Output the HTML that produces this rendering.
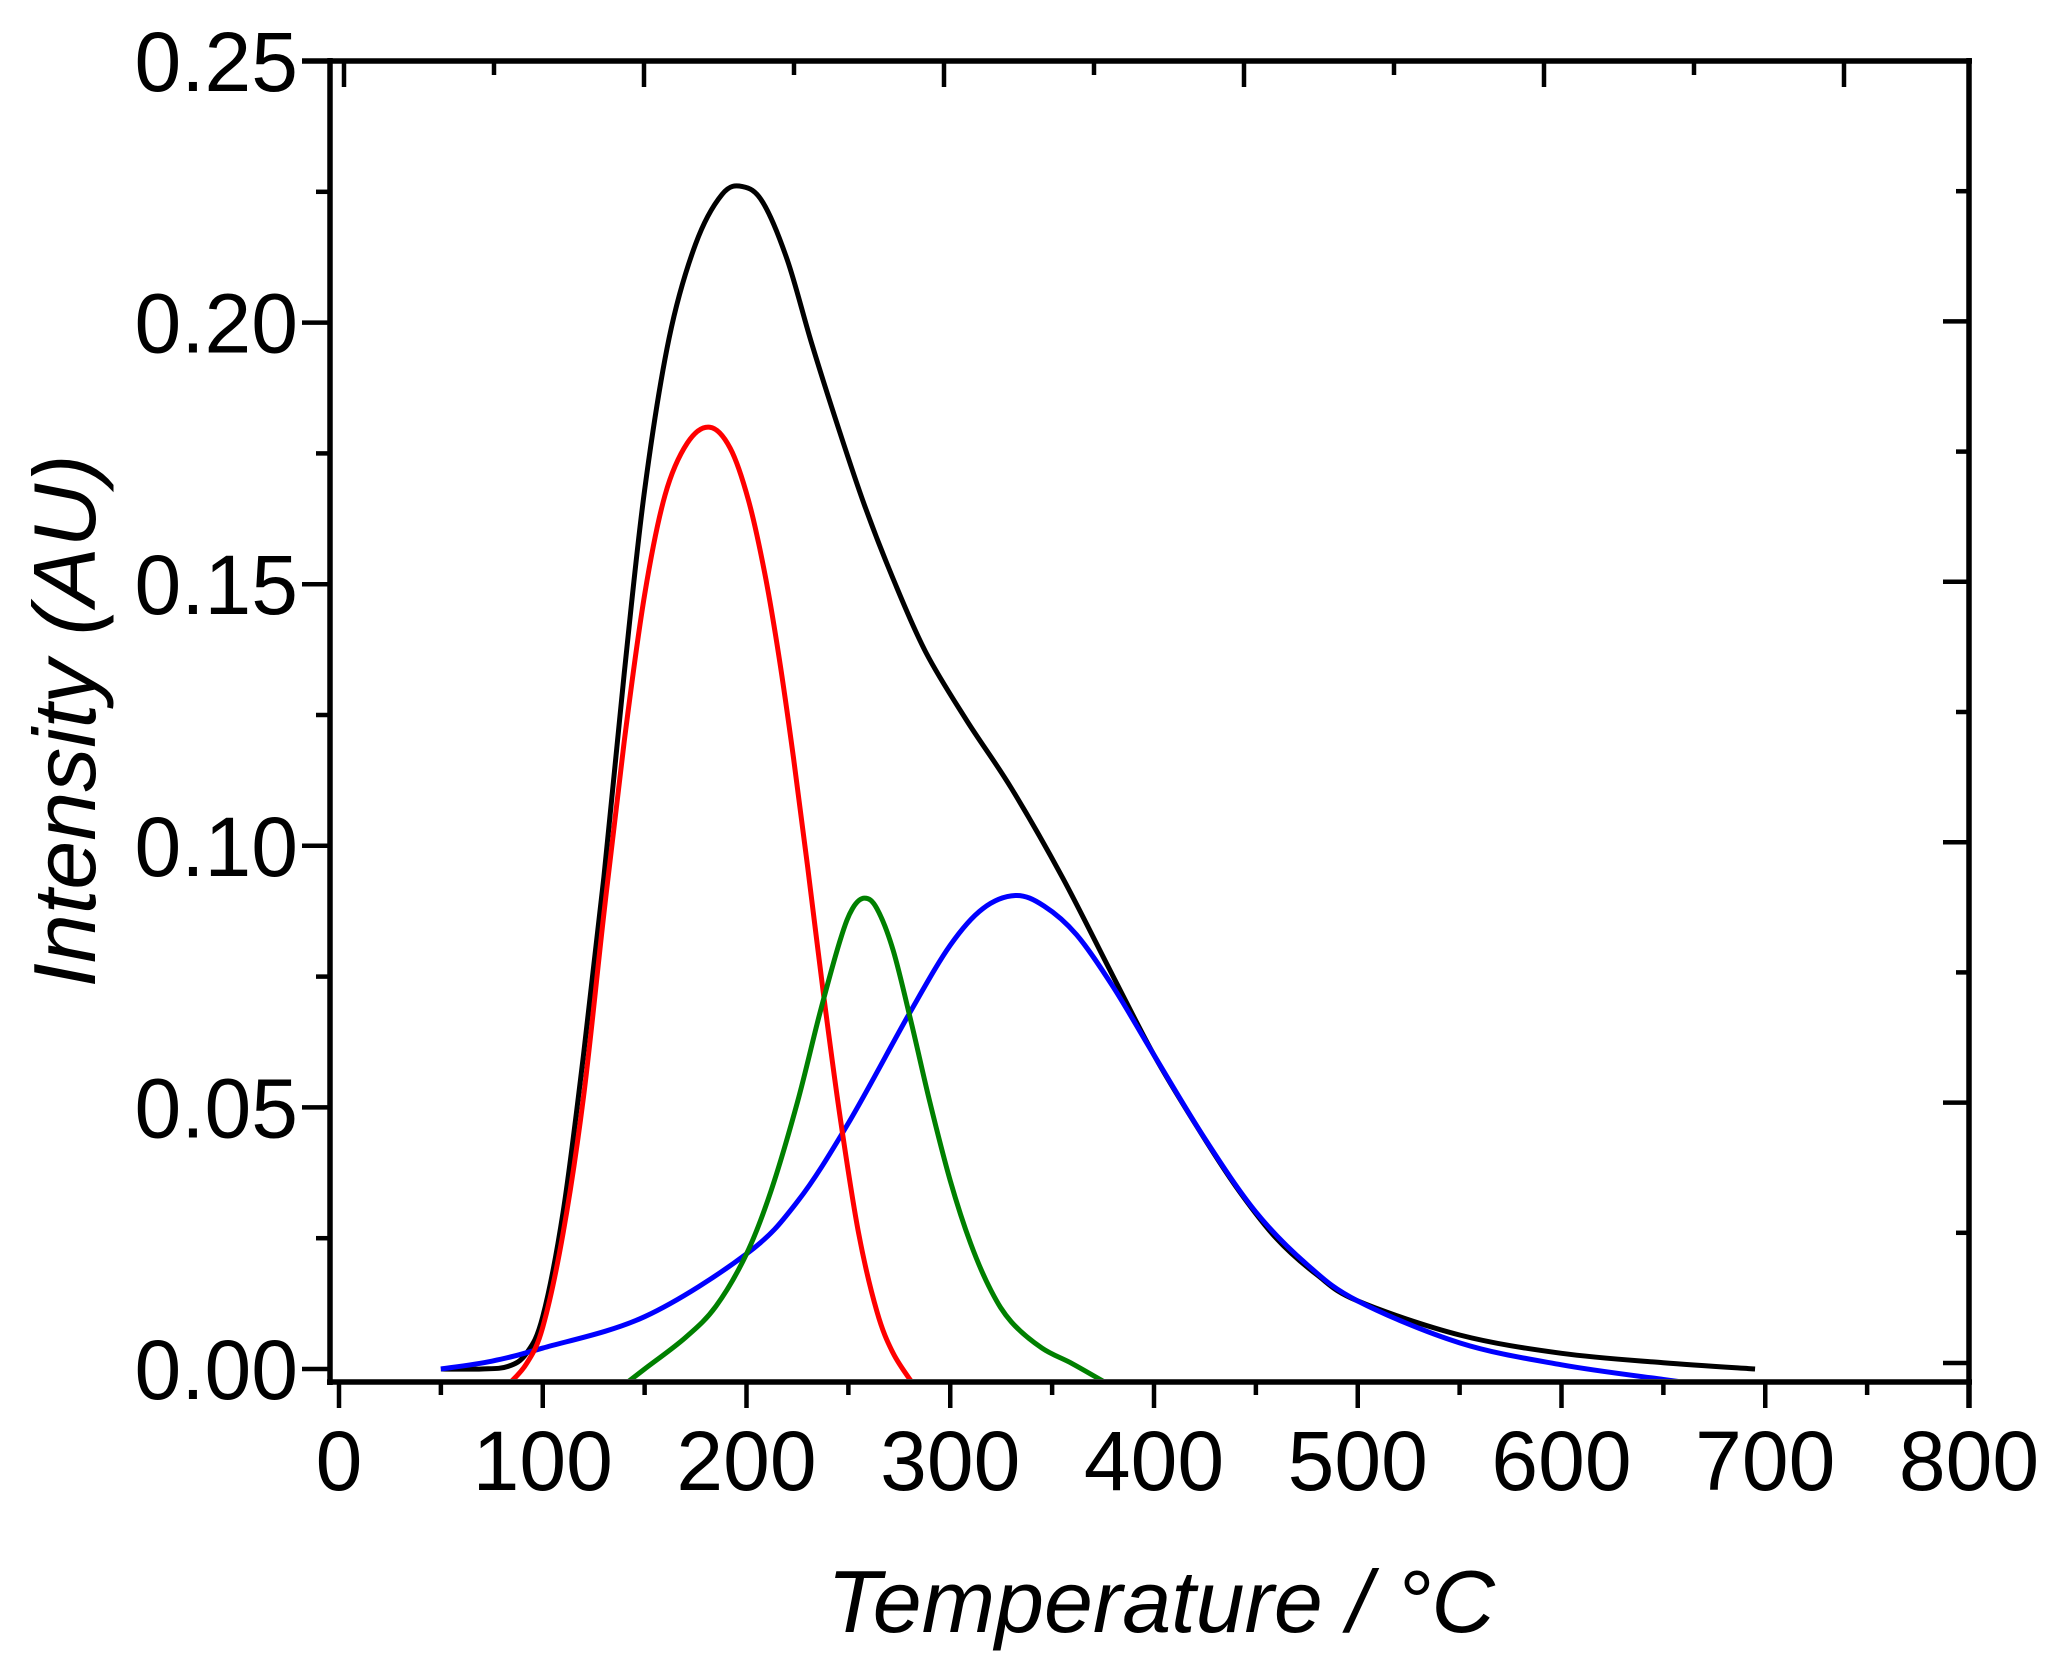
<!DOCTYPE html>
<html><head><meta charset="utf-8"><style>html,body{margin:0;padding:0;background:#fff}svg{display:block}</style></head>
<body>
<svg id="s" width="2065" height="1665" xmlns="http://www.w3.org/2000/svg" font-family="Liberation Sans, Arial, sans-serif">
<defs><clipPath id="c"><rect x="333" y="64" width="1633" height="1315"/></clipPath></defs>
<g stroke="#000" stroke-width="5.5" fill="none" id="ax">
<line x1="330" y1="58" x2="330" y2="1385"/>
<line x1="302" y1="61" x2="1972" y2="61"/>
<line x1="327" y1="1382" x2="1972" y2="1382"/>
<line x1="1969" y1="58" x2="1969" y2="1408"/>
</g>
<g id="tk" stroke="#000" stroke-width="4.5"></g>
<g id="lb" font-size="84" fill="#000"></g>
<text transform="translate(95,721) rotate(-90)" text-anchor="middle" font-size="88" font-style="italic">Intensity (AU)</text>
<text x="1161" y="1632" text-anchor="middle" font-size="88" font-style="italic">Temperature / °C</text>
<g id="cv" clip-path="url(#c)" fill="none" stroke-width="5" stroke-linejoin="round"></g>
</svg>
<script>
var NS="http://www.w3.org/2000/svg";
function X(t){return 339+t*2.0375}
function Y(v){return 1369-v*5232}
function el(p,n,a){var e=document.createElementNS(NS,n);for(var k in a)e.setAttribute(k,a[k]);if(a.t){e.textContent=a.t;e.removeAttribute("t")}p.appendChild(e);return e}
var tk=document.getElementById("tk"),lb=document.getElementById("lb");
for(var t=0;t<=800;t+=50){var x=X(t),maj=t%100==0;
 el(tk,"line",{x1:x,y1:1382,x2:x,y2:maj?1408:1395});
 if(maj)el(lb,"text",{x:x,y:1490,"text-anchor":"middle",t:String(t)});}
for(var k=0;k<=10;k++){var x=344+150*k;el(tk,"line",{x1:x,y1:61,x2:x,y2:k%2==0?87:75});}
for(var i=0;i<=10;i++){var v=i*0.025,y=Y(v),maj=i%2==0;
 el(tk,"line",{x1:maj?302:316,y1:y,x2:330,y2:y});
 var yr=1363-i*130.2;
 el(tk,"line",{x1:maj?1943:1956,y1:yr,x2:1969,y2:yr});
 if(maj)el(lb,"text",{x:298,y:y+30,"text-anchor":"end",t:v.toFixed(2)});}
function path(pts,col){
 var P=pts.map(function(p){return[X(p[0]),Y(p[1])]});var d="M"+P[0][0]+","+P[0][1];
 for(var i=0;i<P.length-1;i++){var p0=P[i-1]||P[i],p1=P[i],p2=P[i+1],p3=P[i+2]||p2;
  d+=" C"+(p1[0]+(p2[0]-p0[0])/6)+","+(p1[1]+(p2[1]-p0[1])/6)+" "+(p2[0]-(p3[0]-p1[0])/6)+","+(p2[1]-(p3[1]-p1[1])/6)+" "+p2[0]+","+p2[1];}
 el(document.getElementById("cv"),"path",{d:d,stroke:col});}
path([[50,0],[70,0],[83,0.0005],[92,0.003],[100,0.01],[110,0.03],[120,0.06],[130,0.094],[140,0.133],[150,0.168],[162,0.197],[175,0.215],[188,0.2245],[198,0.226],[208,0.223],[220,0.212],[232,0.196],[245,0.18],[258,0.165],[272,0.151],[288,0.137],[308,0.124],[330,0.111],[355,0.094],[380,0.075],[400,0.06],[420,0.047],[440,0.035],[460,0.025],[480,0.018],[500,0.013],[550,0.0065],[600,0.003],[650,0.0012],[695,0.0]],"#000");
path([[50,0],[75,0.0015],[100,0.004],[150,0.01],[200,0.022],[225,0.032],[250,0.047],[280,0.068],[300,0.081],[316,0.088],[332,0.0905],[346,0.0885],[362,0.083],[380,0.073],[400,0.06],[425,0.044],[450,0.03],[475,0.02],[500,0.013],[550,0.005],[600,0.0008],[650,-0.002],[670,-0.003]],"#0000ff");
path([[83,-0.003],[92,0.001],[100,0.008],[110,0.026],[120,0.052],[130,0.087],[140,0.12],[150,0.148],[160,0.167],[171,0.177],[182,0.18],[192,0.176],[201,0.166],[209,0.152],[216,0.136],[223,0.117],[230,0.096],[238,0.071],[246,0.048],[255,0.026],[264,0.011],[272,0.003],[282,-0.003]],"#ff0000");
path([[140,-0.003],[150,0.0],[170,0.006],[185,0.012],[200,0.022],[212,0.034],[225,0.051],[236,0.068],[246,0.082],[252,0.088],[258,0.09],[264,0.088],[272,0.08],[281,0.066],[290,0.051],[300,0.036],[310,0.024],[320,0.015],[330,0.009],[345,0.004],[360,0.001],[378,-0.003]],"#008000");
</script>
</body></html>
